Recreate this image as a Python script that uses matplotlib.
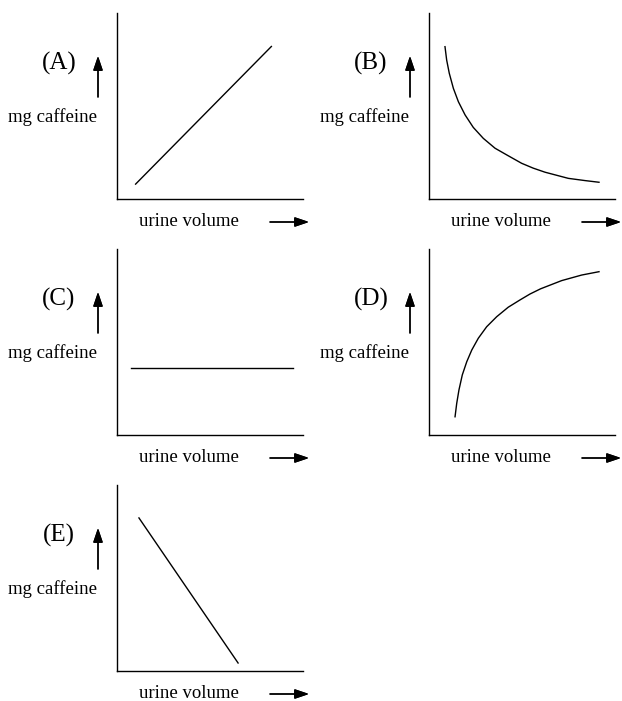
import matplotlib
matplotlib.use('Agg')
import matplotlib.pyplot as plt

# five sketch graphs: mg caffeine vs urine volume
labels = ['(A)', '(B)', '(C)', '(D)', '(E)']
y_text = 'mg caffeine'
x_text = 'urine volume'

a_x = [0.10, 0.83]
a_y = [0.08, 0.82]

b_x = [0.086, 0.095, 0.109, 0.131, 0.158, 0.194, 0.238, 0.292, 0.355, 0.418,
       0.498, 0.560, 0.624, 0.749, 0.839, 0.914]
b_y = [0.819, 0.747, 0.676, 0.595, 0.523, 0.452, 0.385, 0.326, 0.273, 0.237,
       0.192, 0.166, 0.144, 0.111, 0.099, 0.090]

c_x = [0.075, 0.946]
c_y = [0.36, 0.36]

d_x = [0.140, 0.149, 0.161, 0.179, 0.203, 0.230, 0.265, 0.310, 0.364, 0.426,
       0.489, 0.543, 0.600, 0.713, 0.821, 0.914]
d_y = [0.098, 0.170, 0.242, 0.323, 0.394, 0.457, 0.520, 0.582, 0.636, 0.687,
       0.726, 0.758, 0.786, 0.830, 0.860, 0.878]

e_x = [0.118, 0.651]
e_y = [0.823, 0.043]

curves = [(a_x, a_y), (b_x, b_y), (c_x, c_y), (d_x, d_y), (e_x, e_y)]

W, H = 622, 701
# top-left corner of each plot box, in pixels
origins = [(117, 13), (429, 13), (117, 249), (429, 249), (117, 485)]
box = 186

plt.rcParams['font.family'] = 'Liberation Serif'
fig = plt.figure(figsize=(W / 100, H / 100), dpi=100)


def fp(x, y):
    return (x / W, 1 - y / H)


for lab, (xs, ys), (ox, oy) in zip(labels, curves, origins):
    ax = fig.add_axes([ox / W, 1 - (oy + box) / H, box / W, box / H])
    ax.plot(xs, ys, color='black', lw=1.0, solid_joinstyle='round')
    ax.set_xlim(0, 1)
    ax.set_ylim(0, 1)
    ax.set_xticks([])
    ax.set_yticks([])
    for s in ['top', 'right']:
        ax.spines[s].set_visible(False)
    for s in ['left', 'bottom']:
        ax.spines[s].set_linewidth(1.0)

    fig.text(*fp(ox - 58, oy + 50), lab, fontsize=18, ha='center', va='center')
    fig.text(*fp(ox - 64, oy + 104), y_text, fontsize=13.5, ha='center', va='center')
    fig.text(*fp(ox + 72, oy + 209), x_text, fontsize=13.5, ha='center', va='center')

    arrow = dict(arrowstyle='-|>,head_length=0.86,head_width=0.29', color='black',
                 lw=1.0, shrinkA=0, shrinkB=0, mutation_scale=10)
    fig.add_artist(plt.annotate('', xy=fp(ox - 19, oy + 43), xytext=fp(ox - 19, oy + 84),
                                xycoords='figure fraction', textcoords='figure fraction',
                                arrowprops=arrow))
    fig.add_artist(plt.annotate('', xy=fp(ox + 192, oy + 209), xytext=fp(ox + 153, oy + 209),
                                xycoords='figure fraction', textcoords='figure fraction',
                                arrowprops=arrow))

fig.savefig('out.png', dpi=100)
